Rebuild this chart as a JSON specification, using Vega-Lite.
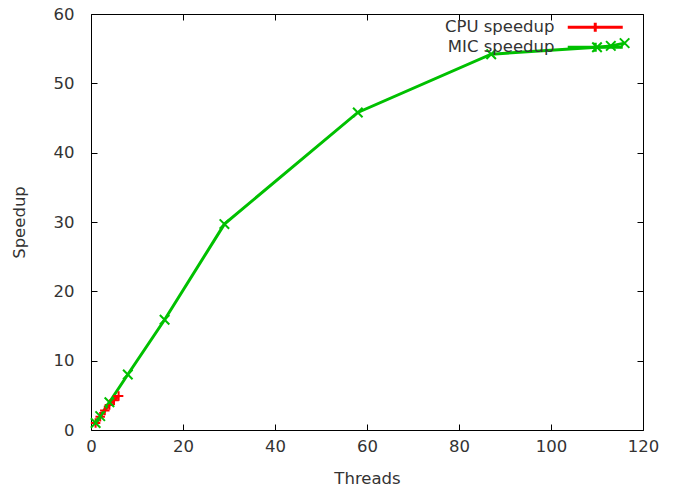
{
  "$schema": "https://vega.github.io/schema/vega-lite/v6.json",
  "width": 552,
  "height": 416,
  "autosize": "none",
  "padding": {"left": 91, "top": 14, "right": 30, "bottom": 60},
  "background": "white",
  "config": {
    "view": {"stroke": "#000000", "strokeWidth": 1},
    "axis": {
      "grid": false,
      "domain": false,
      "labelFlush": false,
      "tickColor": "#000000",
      "tickSize": -6,
      "tickWidth": 1,
      "labelFont": "DejaVu Sans",
      "labelFontSize": 16.5,
      "labelColor": "#333333",
      "titleFont": "DejaVu Sans",
      "titleFontSize": 16.5,
      "titleFontWeight": "normal",
      "titleColor": "#333333"
    },
    "legend": {
      "labelFont": "DejaVu Sans",
      "labelFontSize": 16.5,
      "labelColor": "#333333"
    }
  },
  "datasets": {
    "speedup": [
      {"series": "CPU speedup", "threads": 1, "speedup": 1},
      {"series": "CPU speedup", "threads": 2, "speedup": 1.9},
      {"series": "CPU speedup", "threads": 3, "speedup": 2.8},
      {"series": "CPU speedup", "threads": 4, "speedup": 3.6},
      {"series": "CPU speedup", "threads": 5, "speedup": 4.3},
      {"series": "CPU speedup", "threads": 6, "speedup": 4.9},
      {"series": "MIC speedup", "threads": 1, "speedup": 1},
      {"series": "MIC speedup", "threads": 2, "speedup": 2},
      {"series": "MIC speedup", "threads": 4, "speedup": 4},
      {"series": "MIC speedup", "threads": 8, "speedup": 8},
      {"series": "MIC speedup", "threads": 16, "speedup": 15.9},
      {"series": "MIC speedup", "threads": 29, "speedup": 29.7},
      {"series": "MIC speedup", "threads": 58, "speedup": 45.8},
      {"series": "MIC speedup", "threads": 87, "speedup": 54.2},
      {"series": "MIC speedup", "threads": 110, "speedup": 55.2},
      {"series": "MIC speedup", "threads": 113, "speedup": 55.4},
      {"series": "MIC speedup", "threads": 116, "speedup": 55.8}
    ]
  },
  "data": {"name": "speedup"},
  "layer": [
    {
      "mark": {"type": "line", "strokeWidth": 3},
      "encoding": {
        "x": {
          "field": "threads", "type": "quantitative",
          "scale": {"domain": [0, 120], "nice": false},
          "axis": {"orient": "bottom", "values": [0, 20, 40, 60, 80, 100, 120], "title": "Threads", "labelPadding": 14, "titlePadding": 16}
        },
        "y": {
          "field": "speedup", "type": "quantitative",
          "scale": {"domain": [0, 60], "nice": false},
          "axis": {"orient": "left", "values": [0, 10, 20, 30, 40, 50, 60], "title": "Speedup", "labelPadding": 23, "titlePadding": 26}
        },
        "color": {
          "field": "series", "type": "nominal",
          "scale": {"domain": ["CPU speedup", "MIC speedup"], "range": ["#ff0000", "#00c000"]},
          "legend": {
            "title": null,
            "orient": "none",
            "legendX": 496,
            "legendY": 5,
            "symbolType": "M-5,0H5M0,-0.8V0.8",
            "symbolSize": 121,
            "symbolStrokeWidth": 3,
            "labelAlign": "right",
            "labelOffset": -49,
            "rowPadding": -2
          }
        }
      }
    },
    {
      "transform": [{"filter": "datum.series === 'CPU speedup'"}],
      "mark": {"type": "point", "filled": false, "strokeWidth": 2, "size": 90, "opacity": 1, "shape": "M-1,0H1M0,-1V1", "color": "#ff0000"},
      "encoding": {
        "x": {
          "field": "threads", "type": "quantitative",
          "axis": {"orient": "top", "values": [0, 20, 40, 60, 80, 100, 120], "labels": false, "title": null}
        },
        "y": {
          "field": "speedup", "type": "quantitative",
          "axis": {"orient": "right", "values": [0, 10, 20, 30, 40, 50, 60], "labels": false, "title": null}
        }
      }
    },
    {
      "transform": [{"filter": "datum.series === 'MIC speedup'"}],
      "mark": {"type": "point", "filled": false, "strokeWidth": 2, "size": 90, "opacity": 1, "shape": "M-1,-1L1,1M-1,1L1,-1", "color": "#00c000"},
      "encoding": {
        "x": {"field": "threads", "type": "quantitative", "axis": null},
        "y": {"field": "speedup", "type": "quantitative", "axis": null}
      }
    }
  ]
}
